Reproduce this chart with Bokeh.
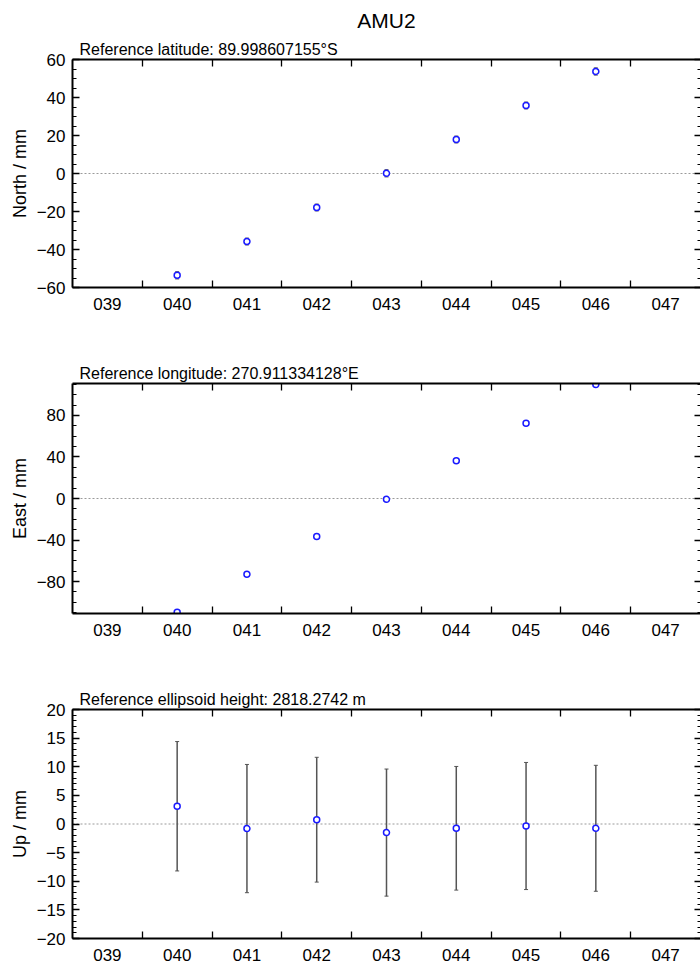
from bokeh.plotting import figure
from bokeh.models import (LinearAxis, FixedTicker, SingleIntervalTicker, Range1d, Span,
                          Whisker, TeeHead, ColumnDataSource, Title, CustomJSTickFormatter)
from bokeh.layouts import column
from bokeh.embed import file_html
from bokeh.resources import INLINE

# ---- data ----
day_labels = ["039", "040", "041", "042", "043", "044", "045", "046", "047"]
obs_days = ["040", "041", "042", "043", "044", "045", "046"]

north = [-53.6, -35.8, -17.9, 0.1, 17.9, 35.8, 53.7]
north_err = [1.9, 1.8, 1.8, 1.9, 1.8, 1.8, 1.9]

east = [-109.5, -73.0, -36.6, -0.8, 36.3, 72.6, 109.8]
east_err = [1.2, 1.2, 1.1, 1.2, 1.1, 1.2, 1.2]

up = [3.1, -0.8, 0.75, -1.5, -0.75, -0.35, -0.75]
up_err = [11.3, 11.2, 10.9, 11.1, 10.8, 11.1, 11.0]

subtitles = ["Reference latitude: 89.998607155\u00b0S",
             "Reference longitude: 270.911334128\u00b0E",
             "Reference ellipsoid height: 2818.2742 m"]
ylabels = ["North / mm", "East / mm", "Up / mm"]
main_title = "AMU2"

FONT = "Liberation Sans"
day_pos = [int(d) for d in day_labels]
obs_pos = [int(d) for d in obs_days]
boundaries = [d + 0.5 for d in day_pos[:-1]]


def blank():
    return CustomJSTickFormatter(code="return ''")


def make_panel(vals, errs, ylabel, subtitle, yrange, interval, nminor,
               top_b, frame_h, bot_b, with_main=False):
    p = figure(width=700, height=top_b + frame_h + bot_b,
               x_range=Range1d(day_pos[0] - 0.5, day_pos[-1] + 0.5),
               y_range=Range1d(*yrange),
               x_axis_type=None, y_axis_type=None,
               output_backend="svg", toolbar_location=None,
               min_border_left=72, min_border_right=0,
               min_border_top=top_b, min_border_bottom=bot_b)
    p.outline_line_color = None
    p.background_fill_color = "white"

    xt = FixedTicker(ticks=day_pos, minor_ticks=boundaries)
    below = LinearAxis(ticker=xt,
                       major_label_overrides={d: s for d, s in zip(day_pos, day_labels)},
                       major_tick_in=0, major_tick_out=0,
                       minor_tick_in=7, minor_tick_out=0,
                       axis_line_width=2, major_label_standoff=10,
                       major_label_text_font=FONT, major_label_text_font_size="17px",
                       major_label_text_color="black",
                       minor_tick_line_width=1.3)
    above = LinearAxis(ticker=xt, formatter=blank(),
                       major_tick_in=0, major_tick_out=0,
                       minor_tick_in=7, minor_tick_out=0,
                       axis_line_width=2, major_label_standoff=0,
                       major_label_text_font_size="1px",
                       minor_tick_line_width=1.3)
    p.add_layout(below, "below")
    p.add_layout(above, "above")

    sub = Title(text=subtitle, align="left", offset=7, standoff=4,
                text_font=FONT, text_font_size="16px", text_font_style="normal",
                text_color="black")
    if with_main:
        p.title.text = main_title
        p.title.align = "center"
        p.title.text_font = FONT
        p.title.text_font_size = "21px"
        p.title.text_font_style = "normal"
        p.title.text_color = "black"
        p.title.standoff = 10
        p.add_layout(sub, "above")
    else:
        p.title = sub

    yt = SingleIntervalTicker(interval=interval, num_minor_ticks=nminor)
    left = LinearAxis(ticker=yt, axis_label=ylabel,
                      major_tick_in=7, major_tick_out=0,
                      minor_tick_in=4, minor_tick_out=0,
                      axis_line_width=2, major_label_standoff=7,
                      axis_label_standoff=4,
                      axis_label_text_font=FONT, axis_label_text_font_size="18px",
                      axis_label_text_font_style="normal",
                      axis_label_text_color="black",
                      major_label_text_font=FONT, major_label_text_font_size="17px",
                      major_label_text_color="black",
                      major_tick_line_width=1.3, minor_tick_line_width=1.2)
    right = LinearAxis(ticker=yt, formatter=blank(), axis_line_color=None,
                       major_tick_in=6, major_tick_out=0,
                       minor_tick_in=3, minor_tick_out=0,
                       major_label_standoff=0, major_label_text_font_size="1px",
                       major_tick_line_width=1.5, minor_tick_line_width=1.2)
    p.add_layout(left, "left")
    p.add_layout(right, "right")

    p.add_layout(Span(location=0, dimension="width", line_color="#9a9a9a",
                      line_width=1, line_dash="2 2", level="underlay"))

    src = ColumnDataSource(dict(
        x=obs_pos, y=vals,
        upper=[v + e for v, e in zip(vals, errs)],
        lower=[v - e for v, e in zip(vals, errs)]))
    p.add_layout(Whisker(source=src, base="x", upper="upper", lower="lower",
                         line_color="#555555", line_width=1.5,
                         upper_head=TeeHead(size=4, line_color="#555555", line_width=1),
                         lower_head=TeeHead(size=4, line_color="#555555", line_width=1)))
    p.scatter("x", "y", source=src, marker="circle", size=6,
              line_color="#1a1aff", fill_color="white", line_width=1.5)
    return p


p1 = make_panel(north, north_err, ylabels[0], subtitles[0], (-60, 60), 20, 4,
                59, 228, 72, with_main=True)
p2 = make_panel(east, east_err, ylabels[1], subtitles[1], (-110.8, 110.8), 40, 4,
                24, 230, 72)
p3 = make_panel(up, up_err, ylabels[2], subtitles[2], (-20, 20), 5, 5,
                24, 229, 25)

layout = column(p1, p2, p3)
open("out.html", "w").write(file_html(layout, INLINE))
